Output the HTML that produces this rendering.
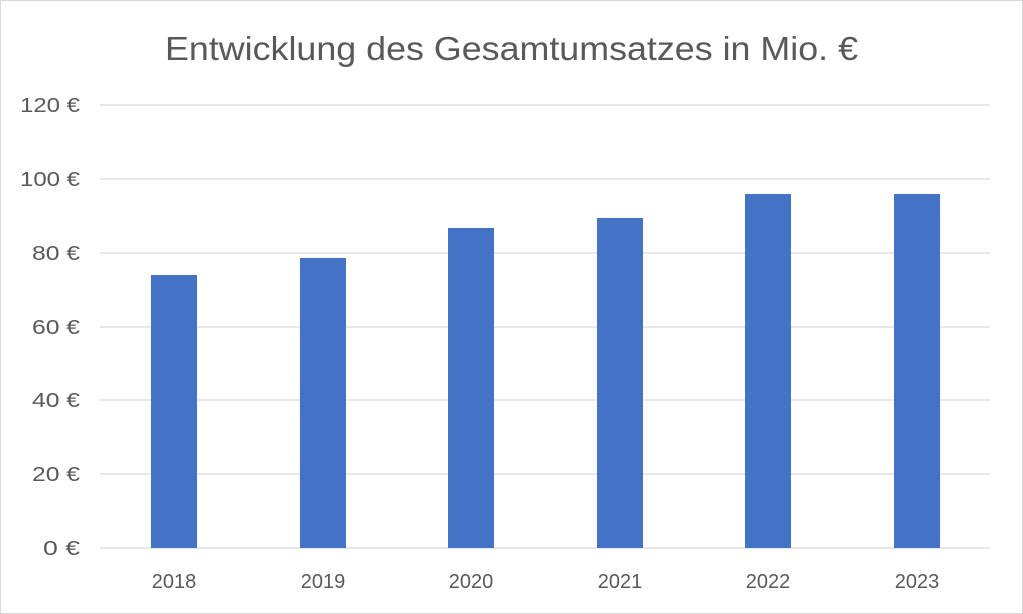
<!DOCTYPE html>
<html><head><meta charset="utf-8"><style>
html,body{margin:0;padding:0;background:#fff}
svg{display:block}
text{font-family:"Liberation Sans",sans-serif;fill:#595959}
</style></head><body>
<svg width="1023" height="614" xmlns="http://www.w3.org/2000/svg">
<rect x="0.5" y="0.5" width="1022" height="613" fill="#fff" stroke="#d9d9d9"/>
<text x="165" y="60" font-size="33" textLength="693" lengthAdjust="spacingAndGlyphs">Entwicklung des Gesamtumsatzes in Mio. €</text>
<g stroke="#d9d9d9" stroke-width="1.3">
<line x1="100" x2="990" y1="105" y2="105"/>
<line x1="100" x2="990" y1="179" y2="179"/>
<line x1="100" x2="990" y1="253" y2="253"/>
<line x1="100" x2="990" y1="327" y2="327"/>
<line x1="100" x2="990" y1="400" y2="400"/>
<line x1="100" x2="990" y1="474" y2="474"/>
<line x1="100" x2="990" y1="548" y2="548"/>
</g>
<g font-size="20" text-anchor="end">
<text x="80" y="112" textLength="60" lengthAdjust="spacingAndGlyphs">120 €</text>
<text x="80" y="186" textLength="60" lengthAdjust="spacingAndGlyphs">100 €</text>
<text x="80" y="260" textLength="48" lengthAdjust="spacingAndGlyphs">80 €</text>
<text x="80" y="334" textLength="48" lengthAdjust="spacingAndGlyphs">60 €</text>
<text x="80" y="407" textLength="48" lengthAdjust="spacingAndGlyphs">40 €</text>
<text x="80" y="481" textLength="48" lengthAdjust="spacingAndGlyphs">20 €</text>
<text x="80" y="555" textLength="37" lengthAdjust="spacingAndGlyphs">0 €</text>
</g>
<g fill="#4472c4">
<rect x="151" y="275" width="46" height="273"/>
<rect x="300" y="258" width="46" height="290"/>
<rect x="448" y="228" width="46" height="320"/>
<rect x="597" y="218" width="46" height="330"/>
<rect x="745" y="194" width="46" height="354"/>
<rect x="894" y="194" width="46" height="354"/>
</g>
<g font-size="20" text-anchor="middle">
<text x="174" y="588">2018</text>
<text x="323" y="588">2019</text>
<text x="471" y="588">2020</text>
<text x="620" y="588">2021</text>
<text x="768" y="588">2022</text>
<text x="917" y="588">2023</text>
</g>
</svg>
</body></html>
